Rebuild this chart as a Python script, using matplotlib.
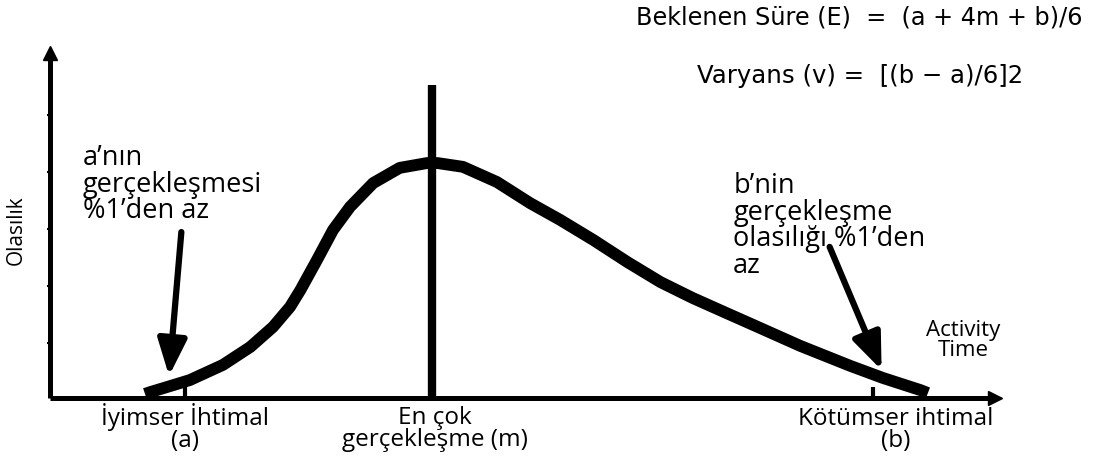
import numpy as np
import matplotlib
matplotlib.use("Agg")
import matplotlib.pyplot as plt

# Beta-like activity time distribution (PERT)
# time axis 0..100, probability axis 0..100 (arbitrary units)
curve_t = [10.05, 10.6, 14.8, 18.3, 21.2, 23.6, 25.4, 26.5, 28.25, 29.95, 31.75, 34.2, 37.0, 39.9,
           41.0, 43.7, 47.3, 50.8, 54.0, 57.5, 61.1, 64.6, 68.0, 71.6, 74.4, 79.4, 84.7, 88.15, 92.1, 92.9]
curve_p = [1.2, 1.7, 5.2, 9.6, 14.8, 20.6, 26.4, 31.3, 40.0, 48.7, 55.4, 62.3, 66.7, 68.1,
           68.1, 67.0, 62.6, 56.5, 51.6, 45.8, 39.4, 33.6, 29.0, 24.6, 21.2, 15.1, 9.3, 5.8, 2.3, 1.45]

a_time = 14.3
m_time = 40.4
b_time = 87.1
m_line_top = 90.7

point_labels = ["İyimser İhtimal\n(a)", "En çok\ngerçekleşme (m)", "Kötümser ihtimal\n(b)"]
note_a = "a’nın\ngerçekleşmesi\n%1’den az"
note_b = "b’nin\ngerçekleşme\nolasılığı %1’den\naz"
formula_e = "Beklenen Süre (E)  =  (a + 4m + b)/6"
formula_v = "Varyans (v) =  [(b − a)/6]2"

fig = plt.figure(figsize=(10.97, 4.59), dpi=100)
ax = fig.add_axes([50 / 1097, 61 / 459, 945 / 1097, 345 / 459])
ax.set_xlim(0, 100)
ax.set_ylim(0, 100)
ax.patch.set_alpha(0)

for s in ["top", "right"]:
    ax.spines[s].set_visible(False)
for s in ["left", "bottom"]:
    ax.spines[s].set_linewidth(3.6)
    ax.spines[s].set_capstyle("butt")
ax.set_xticks([])
ax.set_yticks(np.arange(16, 100, 16.5))
ax.set_yticklabels([])
ax.tick_params(axis="y", length=2, width=1.5, direction="out")

# arrow heads on the axes
ax.plot(100, 0, ">", color="black", markersize=10, clip_on=False)
ax.plot(0, 100, "^", color="black", markersize=10, clip_on=False)

ax.plot(curve_t, curve_p, color="black", lw=8.5, solid_capstyle="butt", solid_joinstyle="round", clip_on=False)
ax.plot([m_time, m_time], [0, m_line_top], color="black", lw=6, solid_capstyle="butt")
for t in [a_time, b_time]:
    ax.plot([t, t], [0, 3.2], color="black", lw=3, solid_capstyle="butt")

font = "Open Sans"
fs = 17.5
ax.text(a_time, -1.5, point_labels[0], ha="center", va="top", fontsize=fs, family=font, linespacing=0.9, clip_on=False)
ax.text(m_time + 0.3, -2.2, point_labels[1], ha="center", va="top", fontsize=fs, family=font, linespacing=0.9, clip_on=False)
ax.text(89.5, -2.5, point_labels[2], ha="center", va="top", fontsize=fs, family=font, linespacing=0.9, clip_on=False)

ax.text(3.5, 73.5, note_a, ha="left", va="top", fontsize=19.5, family=font, linespacing=0.93)
ax.text(72.3, 65.5, note_b, ha="left", va="top", fontsize=19.5, family=font, linespacing=0.93)
ax.text(96.6, 22.5, "Activity\nTime", ha="center", va="top", fontsize=16, family=font, linespacing=0.9, clip_on=False)
ax.text(-3.6, 48.7, "Olasılık", ha="center", va="center", rotation=90, fontsize=15, family=font, clip_on=False)

ax.annotate("", xy=(12.6, 6.4), xytext=(13.9, 48.1),
            arrowprops=dict(arrowstyle="-|>,head_length=0.55,head_width=0.22", mutation_scale=40,
                            lw=4.5, color="black", shrinkA=0, shrinkB=0))
ax.annotate("", xy=(88.0, 8.1), xytext=(82.5, 43.8),
            arrowprops=dict(arrowstyle="-|>,head_length=0.55,head_width=0.22", mutation_scale=40,
                            lw=4.5, color="black", shrinkA=0, shrinkB=0))

fig.text(1082 / 1097, 1 - 17 / 459, formula_e, ha="right", va="center", fontsize=17.3, family="DejaVu Sans")
fig.text(697 / 1097, 1 - 76 / 459, formula_v, ha="left", va="center", fontsize=17.6, family="DejaVu Sans")

fig.savefig("out.png", dpi=100, facecolor="white")
